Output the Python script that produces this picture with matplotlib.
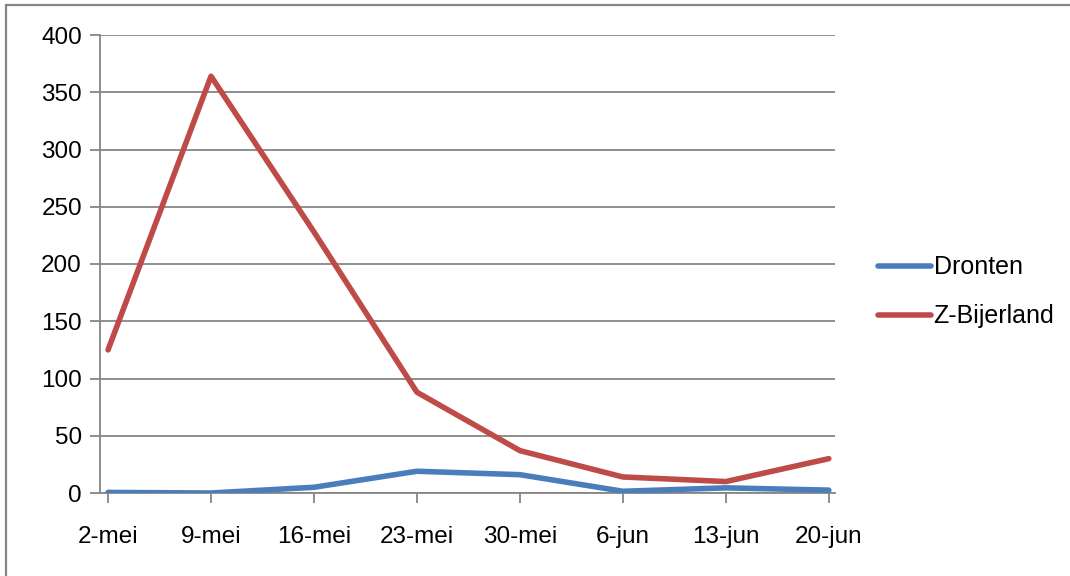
import matplotlib
matplotlib.use('Agg')
import matplotlib.pyplot as plt
from matplotlib.patches import Rectangle

plt.rcParams['font.family'] = ['Liberation Sans', 'DejaVu Sans']

# Data
dates = ['2-mei', '9-mei', '16-mei', '23-mei', '30-mei', '6-jun', '13-jun', '20-jun']
dronten = [0.5, 0, 5, 19, 16, 1.5, 4.5, 2.5]
z_bijerland = [125, 364, 228, 88, 37, 14, 10, 30]
y_ticks = [0, 50, 100, 150, 200, 250, 300, 350, 400]

grey = '#868686'
blue = '#4A7EBB'
red = '#BE4B48'

fig = plt.figure(figsize=(10.7, 5.76), dpi=100)

# outer chart frame (cropped on the right and bottom)
fig.patches.append(Rectangle((6 / 1070, -0.05), 1.1, 1 - 5 / 576 + 0.05,
                             transform=fig.transFigure, fill=False,
                             edgecolor=grey, linewidth=1.6))

ax = fig.add_axes([100 / 1070, 1 - 493 / 576, 735 / 1070, 458 / 576])
x = list(range(len(dates)))
ax.plot(x, dronten, color=blue, linewidth=4.0, solid_capstyle='round', label='Dronten', zorder=3)
ax.plot(x, z_bijerland, color=red, linewidth=4.0, solid_capstyle='round', label='Z-Bijerland', zorder=3)

ax.set_ylim(0, 400)
ax.set_xlim(-0.078, 7.06)
ax.set_yticks(y_ticks)
ax.set_xticks(x)
ax.set_xticklabels(dates)
ax.yaxis.grid(True, color=grey, linewidth=1.3)
ax.set_axisbelow(True)

for side in ['top', 'right']:
    ax.spines[side].set_visible(False)
for side in ['left', 'bottom']:
    ax.spines[side].set_color(grey)
    ax.spines[side].set_linewidth(1.3)

ax.tick_params(axis='both', colors=grey, labelcolor='black', labelsize=17.5,
               length=7, width=1.3, direction='out')
ax.tick_params(axis='y', pad=6)
ax.tick_params(axis='x', pad=17)

fig.legend(loc='center left', bbox_to_anchor=(855 / 1070, 1 - 292 / 576),
           frameon=False, fontsize=18, handlelength=2.15, handletextpad=0.1,
           labelspacing=1.0)

plt.savefig('out.png', dpi=100)
plt.close()
